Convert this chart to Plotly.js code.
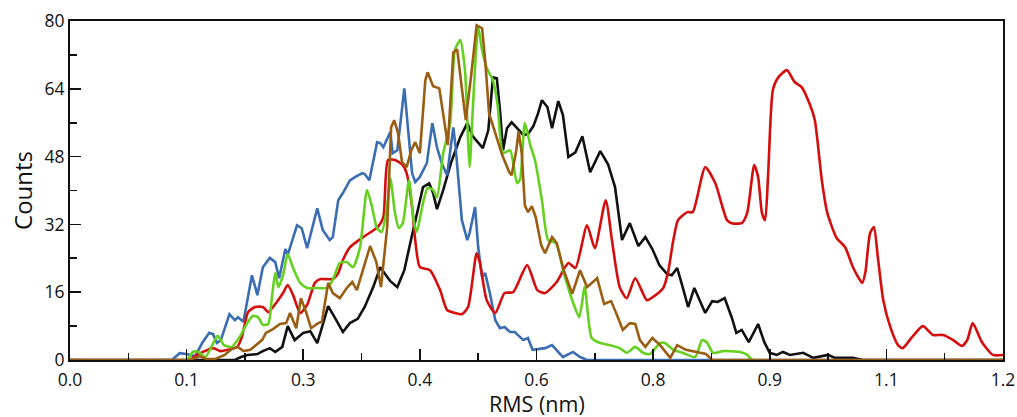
<!DOCTYPE html>
<html>
<head>
<meta charset="utf-8">
<script src="https://cdn.plot.ly/plotly-3.0.1.min.js"></script>
<style>html,body{margin:0;padding:0;background:#fff;}#chart{width:1017px;height:417px;}</style>
</head>
<body>
<div id="chart"></div>
<script>
const xTickVals = [0, 0.15, 0.3, 0.45, 0.6, 0.75, 0.9, 1.05, 1.2];
const xTickText = ["0.0", "0.1", "0.3", "0.4", "0.6", "0.8", "0.9", "1.1", "1.2"];
const yTickVals = [0, 16, 32, 48, 64, 80];
const xTitle = "RMS (nm)";
const yTitle = "Counts";

const blackX = [0, 0.212, 0.220, 0.228, 0.241, 0.248, 0.257, 0.264, 0.273, 0.280, 0.289, 0.300, 0.309, 0.318, 0.325, 0.332, 0.341, 0.351, 0.360, 0.370, 0.379, 0.390, 0.399, 0.405, 0.412, 0.421, 0.430, 0.437, 0.446, 0.454, 0.462, 0.467, 0.472, 0.480, 0.490, 0.502, 0.511, 0.518, 0.531, 0.538, 0.544, 0.549, 0.553, 0.557, 0.562, 0.568, 0.575, 0.583, 0.589, 0.596, 0.602, 0.607, 0.614, 0.620, 0.628, 0.634, 0.641, 0.650, 0.659, 0.669, 0.682, 0.692, 0.701, 0.710, 0.720, 0.731, 0.740, 0.749, 0.758, 0.768, 0.774, 0.781, 0.788, 0.795, 0.803, 0.812, 0.817, 0.826, 0.833, 0.842, 0.851, 0.857, 0.864, 0.873, 0.885, 0.893, 0.900, 0.909, 0.917, 0.926, 0.943, 0.956, 0.975, 0.984, 1.007, 1.020, 1.2];
const blackY = [0, 0, 0.7, 1.2, 1.4, 2.1, 2.8, 1.9, 3.1, 8.0, 4.7, 6.4, 6.8, 4.0, 8.3, 12.7, 9.9, 6.6, 8.7, 9.7, 12.5, 17.2, 21.9, 20.5, 18.6, 17.2, 21.2, 27.1, 34.2, 40.8, 41.7, 39.4, 35.6, 40.1, 46.5, 52.6, 55.9, 52.8, 50.0, 54.2, 66.7, 66.5, 58.9, 49.5, 54.7, 56.1, 54.7, 53.1, 53.3, 55.2, 58.2, 61.3, 59.7, 54.7, 61.1, 57.8, 47.9, 49.0, 52.8, 44.3, 49.3, 46.2, 40.8, 28.3, 32.3, 26.9, 29.0, 26.2, 22.4, 20.3, 20.0, 21.7, 17.2, 12.5, 17.0, 13.0, 11.1, 13.9, 13.7, 14.6, 10.1, 6.4, 7.1, 4.2, 8.5, 4.2, 1.7, 1.2, 1.9, 1.2, 1.7, 0.5, 1.2, 0.5, 0.5, 0, 0];

const blueX = [0, 0.131, 0.141, 0.150, 0.161, 0.170, 0.179, 0.184, 0.189, 0.194, 0.205, 0.212, 0.216, 0.223, 0.234, 0.241, 0.248, 0.257, 0.264, 0.269, 0.277, 0.280, 0.292, 0.298, 0.305, 0.318, 0.325, 0.334, 0.338, 0.345, 0.351, 0.360, 0.367, 0.376, 0.379, 0.385, 0.395, 0.399, 0.403, 0.412, 0.415, 0.421, 0.430, 0.440, 0.444, 0.450, 0.459, 0.466, 0.472, 0.478, 0.485, 0.493, 0.496, 0.504, 0.511, 0.514, 0.521, 0.525, 0.530, 0.534, 0.540, 0.547, 0.553, 0.559, 0.566, 0.572, 0.583, 0.589, 0.595, 0.611, 0.620, 0.634, 0.647, 0.656, 0.665, 1.2];
const blueY = [0, 0, 1.6, 1.4, 0.9, 4.0, 6.4, 6.1, 4.0, 4.7, 10.8, 9.4, 10.1, 9.0, 20.0, 15.3, 21.9, 24.1, 23.1, 19.3, 26.2, 24.8, 31.8, 31.1, 26.4, 35.8, 30.7, 28.3, 29.0, 37.7, 39.4, 42.4, 43.2, 44.1, 43.9, 42.4, 51.4, 51.2, 50.2, 53.8, 48.8, 49.5, 64.1, 44.1, 42.0, 43.2, 46.5, 55.9, 50.2, 46.5, 43.6, 54.9, 50.2, 33.0, 28.3, 30.0, 36.1, 26.6, 19.6, 20.5, 15.8, 9.4, 7.5, 7.8, 6.6, 6.6, 4.7, 5.2, 2.4, 2.8, 3.5, 0.7, 1.9, 0.7, 0, 0];

const greenX = [0, 0.150, 0.158, 0.165, 0.174, 0.183, 0.190, 0.198, 0.208, 0.219, 0.228, 0.235, 0.242, 0.248, 0.255, 0.260, 0.264, 0.268, 0.274, 0.280, 0.287, 0.296, 0.305, 0.318, 0.331, 0.338, 0.347, 0.356, 0.364, 0.373, 0.382, 0.388, 0.395, 0.401, 0.408, 0.412, 0.418, 0.423, 0.428, 0.436, 0.442, 0.446, 0.454, 0.460, 0.467, 0.472, 0.480, 0.489, 0.495, 0.502, 0.508, 0.512, 0.514, 0.518, 0.525, 0.530, 0.536, 0.544, 0.550, 0.557, 0.566, 0.575, 0.579, 0.585, 0.592, 0.598, 0.607, 0.615, 0.625, 0.635, 0.646, 0.655, 0.662, 0.671, 0.682, 0.695, 0.707, 0.716, 0.727, 0.737, 0.746, 0.759, 0.765, 0.776, 0.788, 0.804, 0.813, 0.819, 0.827, 0.840, 0.862, 0.871, 0.878, 1.2];
const greenY = [0, 0, 1.9, 1.9, 0.7, 3.5, 5.7, 3.5, 3.1, 5.7, 8.7, 10.4, 10.1, 8.3, 8.5, 15.3, 20.5, 17.2, 20.0, 25.0, 21.7, 18.2, 17.0, 17.0, 17.0, 18.9, 22.9, 23.1, 21.9, 26.6, 40.1, 36.5, 31.1, 30.2, 36.5, 42.9, 34.7, 31.1, 32.3, 42.4, 33.0, 30.2, 37.0, 40.6, 40.1, 38.4, 48.8, 55.9, 73.1, 75.5, 68.4, 51.9, 45.5, 58.9, 78.5, 73.1, 68.9, 66.0, 60.1, 48.8, 49.5, 41.7, 42.7, 55.9, 50.7, 47.2, 37.7, 28.3, 27.6, 20.7, 14.1, 10.1, 17.2, 5.2, 4.0, 3.5, 2.8, 1.7, 3.1, 1.7, 1.4, 4.0, 4.0, 2.4, 1.7, 0.7, 4.7, 4.2, 1.7, 2.1, 1.9, 1.2, 0, 0];

const redX = [0, 0.154, 0.163, 0.171, 0.184, 0.193, 0.203, 0.215, 0.221, 0.229, 0.238, 0.248, 0.255, 0.266, 0.274, 0.280, 0.287, 0.296, 0.305, 0.315, 0.322, 0.338, 0.345, 0.351, 0.360, 0.377, 0.396, 0.403, 0.409, 0.418, 0.428, 0.433, 0.440, 0.444, 0.450, 0.463, 0.476, 0.485, 0.495, 0.504, 0.512, 0.523, 0.527, 0.536, 0.547, 0.559, 0.570, 0.588, 0.601, 0.611, 0.626, 0.641, 0.650, 0.665, 0.675, 0.689, 0.697, 0.707, 0.716, 0.727, 0.742, 0.750, 0.763, 0.769, 0.776, 0.782, 0.794, 0.801, 0.817, 0.830, 0.845, 0.851, 0.864, 0.871, 0.880, 0.885, 0.890, 0.894, 0.898, 0.904, 0.911, 0.922, 0.932, 0.941, 0.952, 0.958, 0.967, 0.974, 0.986, 0.997, 1.007, 1.019, 1.023, 1.029, 1.034, 1.039, 1.046, 1.055, 1.065, 1.071, 1.083, 1.097, 1.110, 1.123, 1.136, 1.147, 1.154, 1.161, 1.173, 1.187, 1.2];
const redY = [0, 0, 1.2, 1.9, 2.8, 2.1, 2.4, 3.1, 5.4, 11.3, 12.5, 12.5, 11.3, 13.7, 15.8, 17.7, 15.3, 11.1, 13.0, 18.2, 19.1, 19.1, 20.5, 23.6, 26.6, 29.0, 31.4, 33.7, 47.2, 47.2, 46.0, 44.1, 36.1, 28.3, 21.9, 21.2, 16.5, 11.8, 11.1, 10.8, 12.5, 25.2, 23.1, 14.1, 11.1, 15.8, 16.0, 22.4, 16.5, 15.8, 18.4, 22.9, 21.7, 31.8, 26.4, 37.7, 28.3, 17.2, 14.6, 19.3, 14.1, 14.9, 17.0, 20.5, 28.3, 33.0, 34.9, 34.9, 45.5, 41.7, 33.0, 32.3, 32.3, 34.7, 46.0, 43.2, 34.7, 33.0, 44.1, 63.7, 66.7, 68.4, 65.6, 64.4, 60.1, 56.6, 42.4, 34.7, 28.8, 26.6, 21.9, 18.2, 20.7, 29.9, 31.4, 24.3, 14.1, 7.8, 3.5, 2.8, 5.4, 8.0, 5.9, 5.9, 4.7, 3.3, 4.7, 8.7, 4.2, 1.2, 1.2];

const brownX = [0, 0.154, 0.167, 0.176, 0.186, 0.199, 0.208, 0.216, 0.223, 0.232, 0.239, 0.247, 0.252, 0.261, 0.270, 0.278, 0.283, 0.291, 0.297, 0.304, 0.310, 0.319, 0.324, 0.332, 0.338, 0.347, 0.356, 0.363, 0.369, 0.377, 0.386, 0.394, 0.400, 0.408, 0.413, 0.417, 0.422, 0.427, 0.433, 0.439, 0.444, 0.450, 0.457, 0.460, 0.467, 0.475, 0.481, 0.486, 0.493, 0.498, 0.504, 0.509, 0.516, 0.523, 0.530, 0.534, 0.539, 0.547, 0.556, 0.565, 0.568, 0.574, 0.577, 0.581, 0.585, 0.589, 0.594, 0.599, 0.606, 0.611, 0.620, 0.626, 0.635, 0.646, 0.656, 0.665, 0.678, 0.687, 0.696, 0.704, 0.711, 0.720, 0.727, 0.733, 0.740, 0.749, 0.759, 0.772, 0.781, 0.792, 0.806, 0.818, 0.826, 1.2];
const brownY = [0, 0, 0.9, 0.2, 0.2, 1.2, 2.6, 3.1, 2.1, 2.4, 3.5, 4.7, 6.4, 7.3, 8.5, 8.7, 11.1, 7.5, 14.6, 11.1, 7.5, 8.7, 9.0, 18.2, 15.8, 14.6, 17.0, 18.4, 16.5, 21.7, 26.9, 23.1, 17.2, 31.4, 54.9, 56.6, 53.5, 46.7, 45.5, 49.5, 51.4, 48.8, 66.0, 67.9, 64.6, 64.1, 57.1, 50.7, 72.6, 73.3, 64.1, 56.6, 67.2, 79.0, 78.3, 70.7, 58.2, 53.8, 48.3, 44.3, 43.6, 49.5, 54.0, 48.8, 36.5, 34.9, 36.3, 33.7, 27.1, 25.2, 29.0, 27.6, 21.2, 15.6, 21.2, 17.2, 19.3, 13.2, 13.9, 10.4, 7.1, 8.7, 8.5, 4.7, 3.1, 5.2, 3.5, 0.5, 3.5, 2.4, 1.9, 1.4, 0, 0];

const series = [
  {x: blackX, y: blackY, color: "#111111", shape: "linear"},
  {x: blueX, y: blueY, color: "#3b6db3", shape: "linear"},
  {x: redX, y: redY, color: "#d40d0d", shape: "spline"},
  {x: greenX, y: greenY, color: "#66d020", shape: "spline"},
  {x: brownX, y: brownY, color: "#9a5e12", shape: "linear"}
];

const traces = series.map(s => ({
  type: "scatter", mode: "lines", x: s.x, y: s.y,
  line: {color: s.color, width: 2.6, shape: s.shape, smoothing: 0.6},
  hoverinfo: "skip", showlegend: false, cliponaxis: true
}));

const font = "'Open Sans', 'Noto Sans', sans-serif";
const layout = {
  width: 1017, height: 417,
  margin: {l: 70, r: 14, t: 21, b: 57},
  paper_bgcolor: "#fff", plot_bgcolor: "#fff",
  showlegend: false,
  font: {family: font, color: "#111", size: 17},
  xaxis: {
    range: [0, 1.2], showgrid: false, zeroline: false,
    showline: true, linecolor: "#111", linewidth: 2, mirror: true,
    tickmode: "array", tickvals: xTickVals, ticktext: xTickText,
    ticks: "inside", ticklen: 11, tickwidth: 1.6, tickcolor: "#111",
    ticklabelstandoff: 3,
    minor: {tickmode: "linear", tick0: 0, dtick: 0.075, ticks: "inside", ticklen: 7, tickwidth: 1.6, tickcolor: "#111", showgrid: false},
    tickfont: {family: font, size: 17.5, color: "#111"}
  },
  yaxis: {
    range: [0, 80], showgrid: false, zeroline: false,
    showline: true, linecolor: "#111", linewidth: 2, mirror: true,
    tickmode: "array", tickvals: yTickVals,
    ticks: "inside", ticklen: 11, tickwidth: 1.6, tickcolor: "#111",
    minor: {tickmode: "linear", tick0: 0, dtick: 8, ticks: "inside", ticklen: 7, tickwidth: 1.6, tickcolor: "#111", showgrid: false},
    tickfont: {family: font, size: 17.5, color: "#111"},
    title: {text: yTitle, font: {family: font, size: 24, color: "#111"}, standoff: 5}
  },
  annotations: [{
    text: xTitle, xref: "paper", yref: "paper", x: 0.5, y: 0,
    xanchor: "center", yanchor: "top", yshift: -28, borderpad: 0, showarrow: false,
    font: {family: font, size: 21.5, color: "#111"}
  }]
};

Plotly.newPlot("chart", traces, layout, {displayModeBar: false, staticPlot: true});
</script>
</body>
</html>
